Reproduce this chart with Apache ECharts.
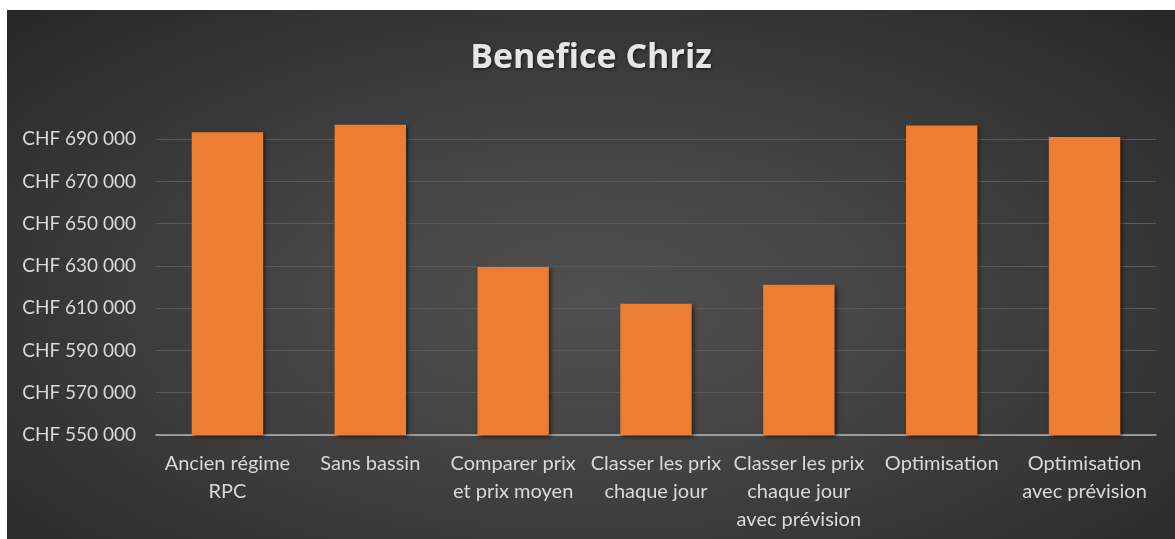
<!DOCTYPE html>
<html>
<head>
<meta charset="utf-8">
<script src="https://cdn.jsdelivr.net/npm/echarts@6/dist/echarts.min.js"></script>
<style>
  html, body { margin: 0; padding: 0; background: #ffffff; }
  #main {
    position: absolute;
    left: 7px;
    top: 10px;
    width: 1168px;
    height: 529px;
    background: radial-gradient(ellipse at 50% 55%, #505050 0%, #434343 40%, #333333 75%, #272727 100%);
  }
</style>
</head>
<body>
<div id="main"></div>
<script>
// categories (x axis)
const categories = [
    'Ancien régime\nRPC',
    'Sans bassin',
    'Comparer prix\net prix moyen',
    'Classer les prix\nchaque jour',
    'Classer les prix\nchaque jour\navec prévision',
    'Optimisation',
    'Optimisation\navec prévision'
];

// profit per scenario, CHF
const benefice = [693300, 696800, 629500, 612100, 621100, 696500, 691000];

// y axis range
const yMin = 550000;
const yMax = 700000;
const yStep = 20000;

const chartTitle = 'Benefice Chriz';

function chf(v) {
    const s = String(Math.round(v));
    return 'CHF ' + s.replace(/\B(?=(\d{3})+(?!\d))/g, ' ');
}

const chart = echarts.init(document.getElementById('main'), null, { renderer: 'canvas' });

const option = {
    backgroundColor: 'transparent',
    animation: false,
    title: {
        text: chartTitle,
        left: 'center',
        top: 26,
        textStyle: {
            fontFamily: 'Open Sans',
            fontWeight: 'bold',
            fontSize: 34,
            color: '#e6e6e6',
            textShadowColor: 'rgba(0,0,0,0.6)',
            textShadowBlur: 3,
            textShadowOffsetX: 1,
            textShadowOffsetY: 1
        }
    },
    grid: {
        left: 149,
        right: 19,
        top: 108,
        bottom: 104,
        containLabel: false,
        outerBoundsMode: 'none'
    },
    xAxis: {
        type: 'category',
        data: categories,
        axisTick: { show: false },
        axisLine: {
            lineStyle: { color: '#b5b5b5', width: 1.5 }
        },
        axisLabel: {
            interval: 0,
            margin: 15,
            fontFamily: 'Lato',
            fontSize: 20,
            lineHeight: 28,
            color: '#d9d9d9',
            verticalAlign: 'top'
        }
    },
    yAxis: {
        type: 'value',
        min: yMin,
        max: yMax,
        interval: yStep,
        axisLine: { show: false },
        axisTick: { show: false },
        splitLine: {
            showMaxLine: false,
            lineStyle: { color: '#5a5a5a', width: 1 }
        },
        axisLabel: {
            showMaxLabel: false,
            margin: 20,
            fontFamily: 'Lato',
            fontSize: 19,
            color: '#d9d9d9',
            formatter: chf
        }
    },
    series: [
        {
            type: 'bar',
            data: benefice,
            barWidth: '50%',
            itemStyle: {
                color: '#ed7d31',
                shadowColor: 'rgba(0,0,0,0.55)',
                shadowBlur: 4,
                shadowOffsetX: 2,
                shadowOffsetY: 2
            }
        }
    ]
};

chart.setOption(option);
</script>
</body>
</html>
